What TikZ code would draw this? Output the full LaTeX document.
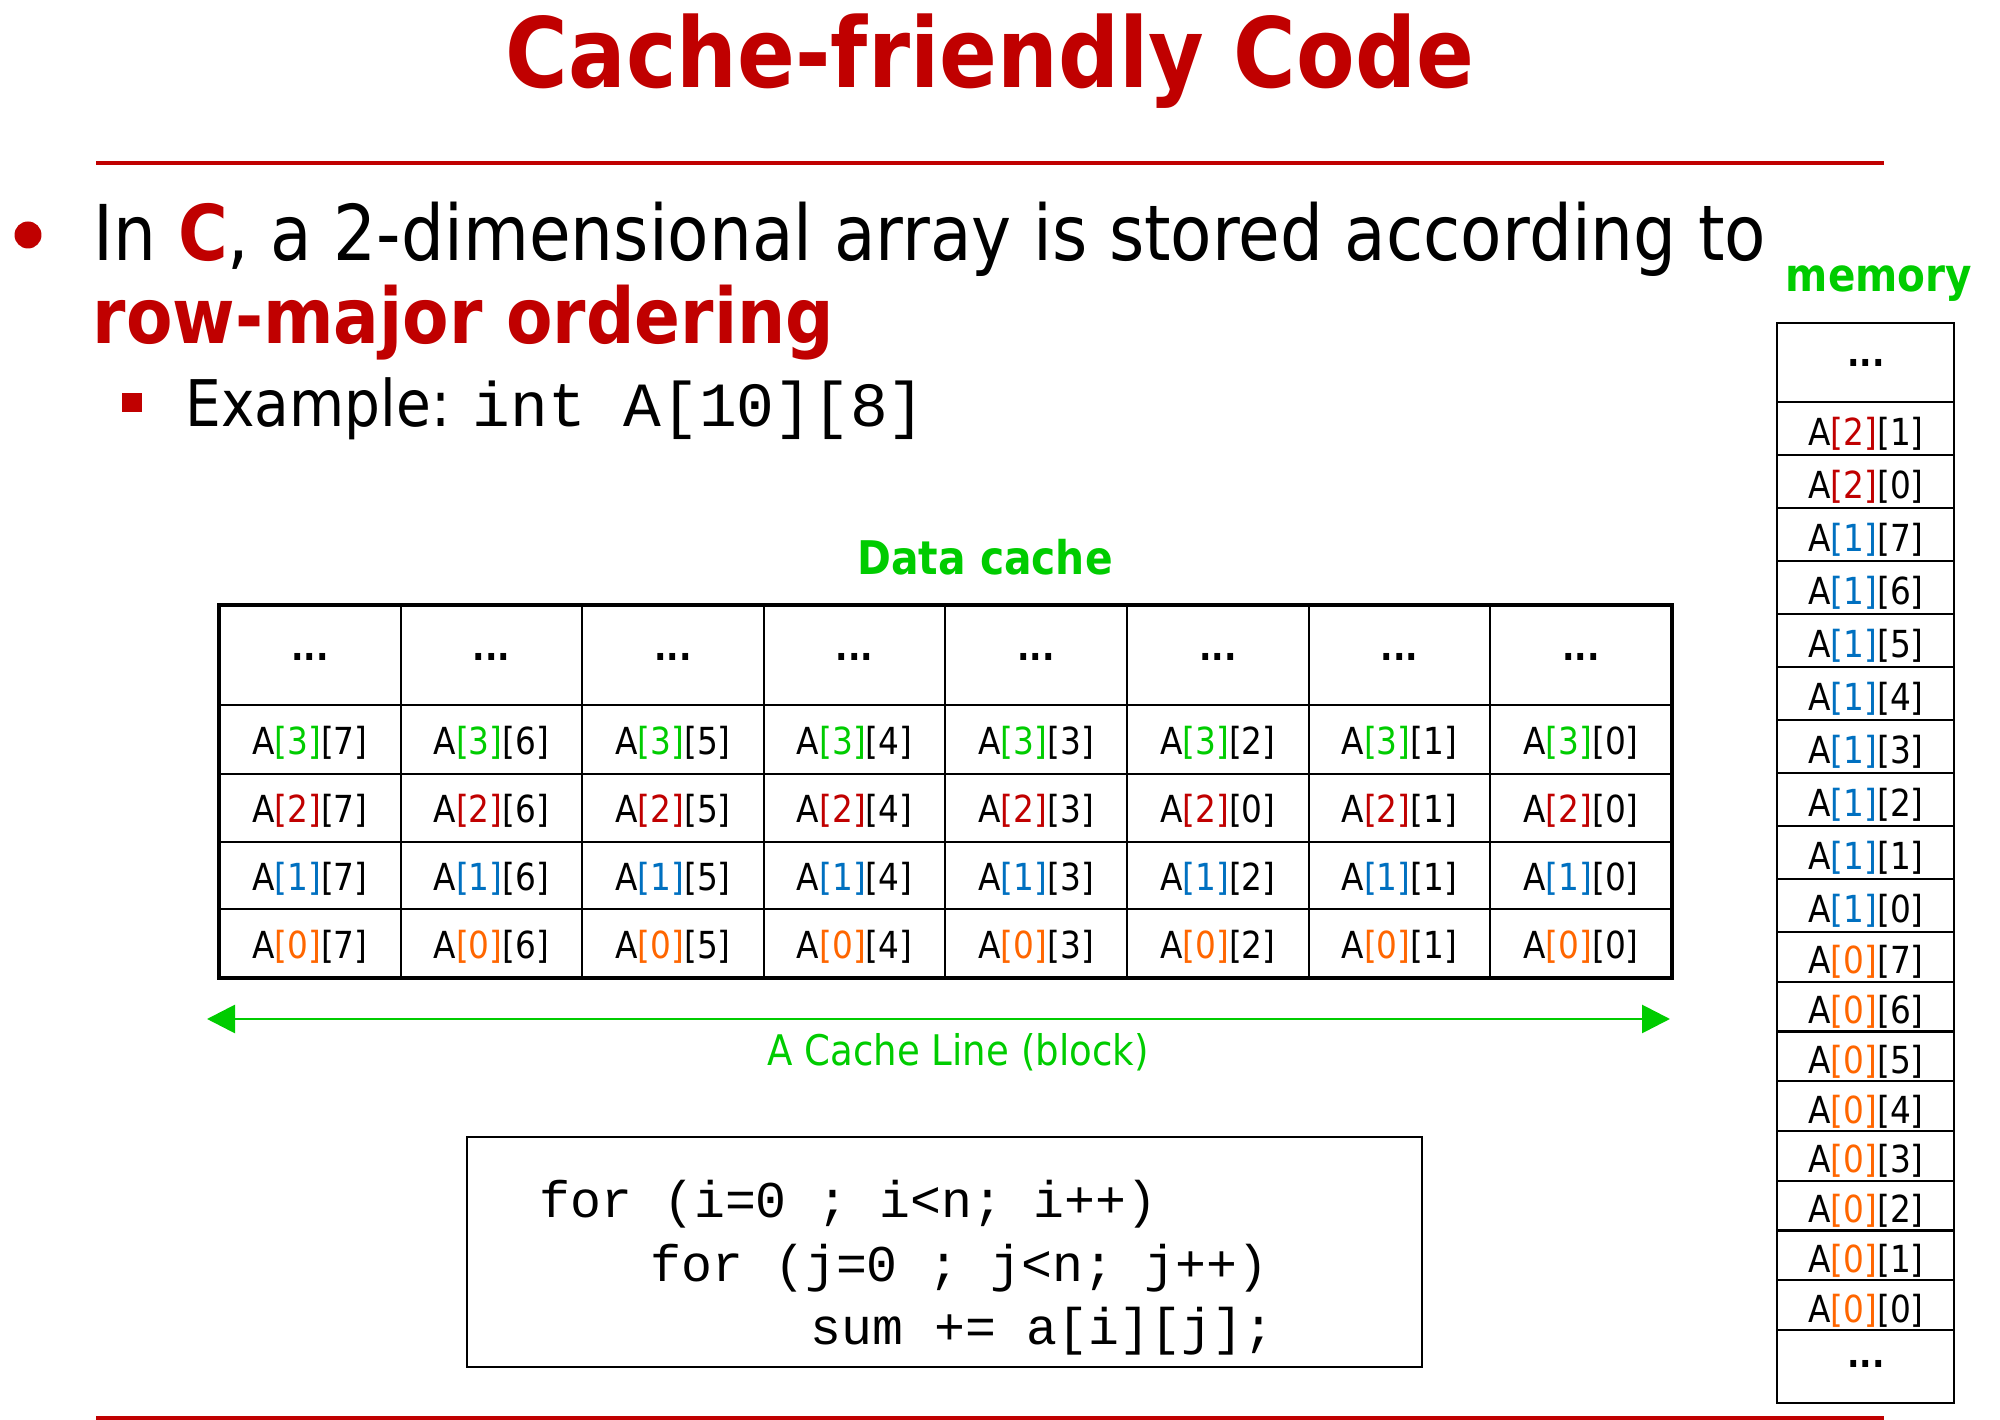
\documentclass[tikz,border=0pt]{standalone}
\usepackage{fontspec}
\setmainfont{DejaVu Sans}[FakeStretch=0.88]
\newfontfamily\codefont{Liberation Mono}
\usetikzlibrary{arrows.meta,positioning}
\definecolor{slidered}{RGB}{192,0,0}
\definecolor{slidegreen}{RGB}{0,204,0}
\definecolor{c3}{RGB}{0,204,0}
\definecolor{c2}{RGB}{192,0,0}
\definecolor{c1}{RGB}{0,112,192}
\definecolor{c0}{RGB}{255,102,0}
\newcommand{\elem}[2]{A\textcolor{c#1}{[#1]}[#2]}

\begin{document}
\begin{tikzpicture}[x=0.1mm,y=-0.1mm,>=Stealth,inner sep=0pt,
  lbl/.style={anchor=base,font=\fontsize{10.6}{12}\selectfont},
  dots/.style={anchor=base,font=\bfseries\fontsize{10.6}{12}\selectfont},
  inner/.style={line width=0.6pt},
  code/.style={anchor=base west,font=\codefont\fontsize{14.65}{16}\selectfont}]
  \useasboundingbox (0,0) rectangle (2000,1420);
  \node[anchor=base,slidered,font=\bfseries\fontsize{27.6}{30}\selectfont] (title) at (990,88) {Cache-friendly Code};
  \draw[slidered,line width=1.2pt] (96,163) -- (1884,163);
  \draw[slidered,line width=0.9pt] (96,1418) -- (1884,1418);
  \fill[slidered] (28,235) circle (1.35mm);
  \node[anchor=base west,font=\fontsize{21.9}{24}\selectfont] (bul1) at (93,261)
    {In {\bfseries\color{slidered}C}, a 2-dimensional array is stored according to};
  \node[anchor=base west,slidered,font=\bfseries\fontsize{21.9}{24}\selectfont] (bul2) at (92,344) {row-major ordering};
  \fill[slidered] (122,393) rectangle (142,412);
  \node[anchor=base west,font=\fontsize{18.3}{20}\selectfont] (ex) at (185,427) {Example:};
  \node[anchor=base west,font=\codefont\fontsize{17.9}{20}\selectfont] (decl) at (472,427) {int A[10][8]};
  % data cache
  \node[anchor=base,slidegreen,font=\bfseries\fontsize{13.2}{15}\selectfont] (dc) at (985,575) {Data cache};
  \foreach \y in {705,774,842,909} \draw[inner] (219,\y) -- (1672,\y);
  \foreach \k in {1,...,7} \draw[inner] ({219+181.6*\k},605) -- ({219+181.6*\k},978);
  \draw[line width=1.1pt] (219,605) rectangle (1672,978);
  \foreach \k in {0,...,7} \node[dots] (td\k) at ({309.8+181.6*\k},661) {...};
  \foreach \r/\y/\cols in {3/755/{7,6,5,4,3,2,1,0},2/823/{7,6,5,4,3,0,1,0},1/891/{7,6,5,4,3,2,1,0},0/959/{7,6,5,4,3,2,1,0}}
    \foreach \c [count=\k from 0] in \cols
      \node[lbl] (t\r\k) at ({309.8+181.6*\k},\y) {\elem{\r}{\c}};
  \coordinate (lineL) at (207,1019);
  \coordinate (lineR) at (1670,1019);
  \draw[<->,slidegreen,line width=0.8pt,>={Triangle[length=2.8mm,width=2.8mm]}] (lineL) -- (lineR);
  \node[anchor=base,slidegreen,font=\fontsize{12}{14}\selectfont] (cl) at (958,1066) {A Cache Line (block)};
  % memory
  \node[anchor=base,slidegreen,font=\bfseries\fontsize{13.1}{15}\selectfont] (mem) at (1879,292) {memory};
  \draw[inner] (1777,323) rectangle (1954,1403);
  \node[dots] (mtop) at (1866,367) {...};
  \node[dots] (mbot) at (1866,1368) {...};
  \draw[inner] (1777,402) -- (1954,402);
  \foreach \r/\c [count=\i] in {2/1,2/0,1/7,1/6,1/5,1/4,1/3,1/2,1/1,1/0,0/7,0/6,0/5,0/4,0/3,0/2,0/1,0/0} {
    \pgfmathsetmacro\cy{\i<11 ? 402+53*(\i-0.5) : 932+49.75*(\i-10.5)}
    \pgfmathsetmacro\cb{\i<11 ? 402+53*\i : 932+49.75*(\i-10)}
    \node[lbl] (m\i) at (1866,\cy+17) {\elem{\r}{\c}};
    \draw[inner] (1777,\cb) -- (1954,\cb);
  }
  % code
  \draw[inner] (467,1137) rectangle (1422,1367);
  \node[code] (loop1) at (539,1218) {for (i=0 ; i<n; i++)};
  \node[code] (loop2) at (650,1282) {for (j=0 ; j<n; j++)};
  \node[code] (body) at (810,1345) {sum += a[i][j];};
\end{tikzpicture}
\end{document}
